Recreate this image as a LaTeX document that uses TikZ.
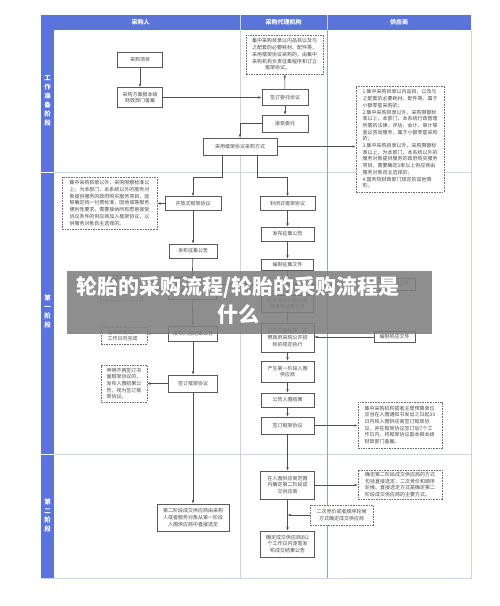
\documentclass[tikz,border=0pt]{standalone}
\usepackage{fontspec}
\setmainfont{Noto Sans CJK SC}
\usetikzlibrary{arrows.meta,calc}
\definecolor{hdr}{HTML}{5B74DB}
\definecolor{gridl}{HTML}{C9D3EA}
\definecolor{gridd}{HTML}{8FA1D8}
\definecolor{boxc}{HTML}{5A5A5A}
\definecolor{textc}{HTML}{4A4A4A}
\definecolor{notec}{HTML}{707070}
\definecolor{arrc}{HTML}{505050}
\definecolor{wmgray}{HTML}{7E7E7E}
\tikzset{
  box/.style={draw=boxc, line width=0.7pt, fill=white, text=textc, align=center, inner sep=1.5pt,
    font=\fontsize{5}{6.7}\selectfont},
  note/.style={draw=notec, line width=0.6pt, dash pattern=on 1.6pt off 1pt, fill=white, text=textc,
    align=left, inner sep=2pt, font=\fontsize{5}{6.7}\selectfont},
  arr/.style={draw=arrc, line width=0.6pt, -{Latex[length=3.2pt,width=2.6pt]}},
  hdrtxt/.style={text=white, font=\fontsize{6}{7}\selectfont\bfseries},
  stagetxt/.style={text=white, align=center, font=\fontsize{6.5}{9}\selectfont\bfseries},
}
\begin{document}
\begin{tikzpicture}[x=1pt,y=-1pt]
\useasboundingbox (0,0) rectangle (500,606);
\fill[white] (0,0) rectangle (500,606);
% table
\fill[hdr] (41,15) rectangle (471,30);
\fill[hdr] (41,30) rectangle (54,578);
\draw[white, line width=0.5pt] (41,172) -- (54,172) (41,454) -- (54,454);
\draw[gridl, line width=0.7pt] (54,172) -- (471,172) (54,454) -- (471,454);
\draw[gridl, line width=0.7pt] (41,578) -- (471,578) -- (471,30);
\draw[gridl, line width=0.8pt] (240,30) -- (240,578);
\draw[gridd, line width=0.8pt] (327,30) -- (327,578);
\draw[gridl, line width=0.5pt] (240,15) -- (240,30) (327,15) -- (327,30);
\node[hdrtxt] (h1) at (140.5,22.5) {采购人};
\node[hdrtxt] (h2) at (283.5,22.5) {采购代理机构};
\node[hdrtxt] (h3) at (399,22.5) {供应商};
\node[stagetxt] (s0) at (47.5,101) {工\\作\\准\\备\\阶\\段};
\node[stagetxt] (s1) at (47.5,312) {第\\一\\阶\\段};
\node[stagetxt] (s2) at (47.5,516) {第\\二\\阶\\段};
% preparation stage
\node[box, minimum width=45pt, minimum height=15pt] (n1) at (140,59.5) {采购项目};
\node[box, minimum width=45pt, minimum height=20pt] (n2) at (140,97.5) {采购方案报本级\\财政部门备案};
\node[box, minimum width=46pt, minimum height=16pt] (n3) at (285,97.5) {签订委托协议};
\node[box, minimum width=46pt, minimum height=17pt] (n4) at (285,123.5) {接受委托};
\node[note, minimum width=77pt, minimum height=39pt] (t1) at (284.5,54.5) {集中采购目录以内品目以及与\\之配套的必要耗材、配件等，\\采用框架协议采购的，由集中\\采购机构负责征集程序和订立\\\hspace*{2.6em}框架协议。};
\node[box, minimum width=74pt, minimum height=17pt] (n5) at (240,146.5) {采用框架协议采购方式};
\node[note, minimum width=88pt, minimum height=106pt] (t2) at (400,139) {1.集中采购目录以内品目，以及与\\之配套的必要耗材、配件等，属于\\小额零星采购的；\\2.集中采购目录以外，采购限额标\\准以上，本部门、本系统行政管理\\所需的法律、评估、会计、审计等\\鉴证咨询服务，属于小额零星采购\\的；\\3.集中采购目录以外，采购限额标\\准以上，为本部门、本系统以外的\\服务对象提供服务的政府购买服务\\项目，需要确定2家以上供应商由\\服务对象自主选择的；\\4.国务院财政部门规定的其他情\\形。};
% stage one, left
\node[box, minimum width=56pt, minimum height=14pt] (n6) at (193,203.5) {开放式框架协议};
\node[note, minimum width=95pt, minimum height=52pt] (t3) at (109.5,203) {集中采购目录以外，采购限额标准以\\上，为本部门、本系统以外的服务对\\象提供服务的政府购买服务项目，能\\够确定统一付费标准，因地域等服务\\便利性要求，需要接纳所有愿意接受\\协议条件的供应商加入框架协议，以\\供服务对象自主选择的。};
\node[box, minimum width=48pt, minimum height=14pt] (n8) at (193,251) {发布征集公告};
\node[box, minimum width=48pt, minimum height=22pt] (n9) at (192,288) {审核响应文件并\\确定入围供应商};
\node[note, minimum width=42pt, minimum height=25pt] (t4) at (121,287.5) {收到响应文件后\\10个工作日内\\完成审核};
\node[box, minimum width=49pt, minimum height=15pt] (n10) at (193,333.5) {发布入围结果公告};
\node[note, minimum width=46pt, minimum height=17pt] (t5) at (124,335.5) {在审核通过2个\\工作日内完成};
\node[box, minimum width=49pt, minimum height=17pt] (n11) at (193,383.5) {签订框架协议};
\node[note, minimum width=46pt, minimum height=37pt] (t6) at (124,383.5) {申明不再签订书\\面框架协议的，\\发布入围结果公\\告，视为签订框\\架协议。};
% stage one, right
\node[box, minimum width=55pt, minimum height=14pt] (n7) at (287.5,203.5) {封闭式框架协议};
\node[box, minimum width=53pt, minimum height=14pt] (n13) at (287.5,234) {发布征集公告};
\node[box, minimum width=52pt, minimum height=11pt] (n14) at (287.5,264.5) {编制征集文件};
\node[box, minimum width=52pt, minimum height=17pt] (n15) at (287.5,303.5) {在财政部门指定媒\\体发布征集公告};
\node[box, minimum width=53pt, minimum height=29pt] (n16) at (287.5,337.5) {公开征集程序，按\\照政府采购公开招\\标的规定执行};
\node[box, minimum width=41pt, minimum height=12pt] (u1) at (394.5,284) {提交响应文件};
\node[box, minimum width=41pt, minimum height=11pt] (u2) at (394.5,337) {编制响应文件};
\node[box, minimum width=53pt, minimum height=21pt] (n17) at (287.5,371.5) {产生第一阶段入围\\供应商};
\node[box, minimum width=53pt, minimum height=14pt] (n18) at (287.5,400) {公告入围结果};
\node[box, minimum width=53pt, minimum height=17pt] (n19) at (287.5,425.5) {签订框架协议};
\node[note, minimum width=84pt, minimum height=46pt] (t7) at (400,425) {集中采购机构或者主管预算单位\\应当在入围通知书发出之日起30\\日内和入围供应商签订框架协\\议，并在框架协议签订后7个工\\作日内，将框架协议副本报本级\\财政部门备案。};
% stage two
\node[box, minimum width=72pt, minimum height=27pt] (n12) at (193,517.5) {第二阶段成交供应商由采购\\人或者服务对象从第一阶段\\入围供应商中直接选定};
\node[box, minimum width=54pt, minimum height=28pt] (n20) at (287.5,485) {在入围供应商范围\\内确定第二阶段成\\交供应商};
\node[note, minimum width=84pt, minimum height=29pt] (t8) at (400,484.5) {确定第二阶段成交供应商的方式\\包括直接选定、二次竞价和顺序\\轮候。直接选定方式是确定第二\\阶段成交供应商的主要方式。};
\node[note, minimum width=63pt, minimum height=20pt, align=center] (t9) at (341.5,515) {二次竞价或者顺序轮候\\方式确定成交供应商};
\node[box, minimum width=54pt, minimum height=26pt] (n21) at (287.5,544) {确定成交供应商后2\\个工作日内逐笔发\\布成交结果公告};
% connectors
\draw[arr] (n1) -- (n2);
\draw[arr] (n2.east) -- (n3.west);
\draw[arr] (n3) -- (t1);
\draw[arr] (n3) -- (n4);
\draw[arr] (n4.west) -| (n5.north);
\draw[arr] (n5.east) -- (t2.west |- n5.east);
\draw[arr] ([xshift=-18pt]n5.south) -- ++(0,22) -| (n6.north);
\draw[arr] ([xshift=17pt]n5.south) -- ++(0,22) -| (n7.north);
\draw[arr] (n6.west) -- (t3.east |- n6.west);
\draw[arr] (n6) -- (n8);
\draw[arr] (n8) -- (n9);
\draw[arr] (n9.west) -- (t4.east |- n9.west);
\draw[arr] (n9) -- (n10);
\draw[arr] (n10.west) -- (t5.east |- n10.west);
\draw[arr] (n10) -- (n11);
\draw[arr] (n11.west) -- (t6.east |- n11.west);
\draw[arr] (n11) -- (n12);
\draw[arr] (n7) -- (n13);
\draw[arr] (n13) -- (n14);
\draw[arr] (n14) -- (n15);
\draw[arr] (n15) -- (n16);
\draw[arr] (u1.west) -- (n9.east |- u1.west);
\draw[arr] (u2.west) -- (n16.east |- u2.west);
\draw[arr] (n16) -- (n17);
\draw[arr] (n17) -- (n18);
\draw[arr] (n18) -- (n19);
\draw[arr] (n19.east) -- (t7.west |- n19.east);
\draw[arr] (n19) -- (n20);
\draw[arr] (n20.east) -- (t8.west |- n20.east);
\draw[arr] (n20) -- (n21);
\draw[arr] (t9.west) -- (n20.south |- t9.west);
% watermark band
\fill[wmgray, opacity=0.87] (67,271) rectangle (432,334);
\node[text=white, font=\fontsize{21}{24}\selectfont\bfseries, inner sep=0pt] (w1) at (238,287) {轮胎的采购流程/轮胎的采购流程是};
\node[text=white, font=\fontsize{21}{24}\selectfont\bfseries, inner sep=0pt] (w2) at (238,315) {什么};
\end{tikzpicture}
\end{document}
